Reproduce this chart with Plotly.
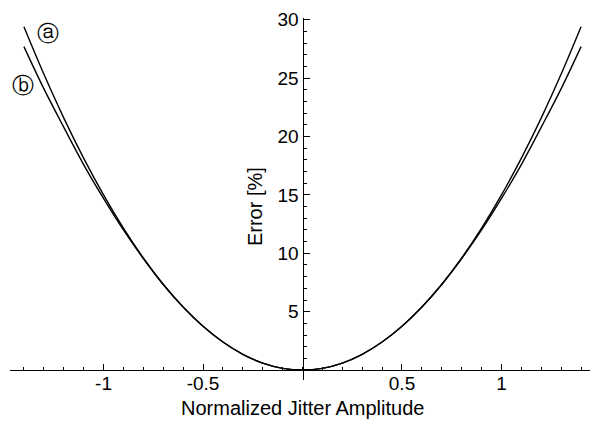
import plotly.graph_objects as go

# Data
x_vals = [-1.4, -1.3, -1.2, -1.1, -1.0, -0.9, -0.8, -0.7, -0.6, -0.5, -0.4, -0.3, -0.2, -0.1, 0.0,
          0.1, 0.2, 0.3, 0.4, 0.5, 0.6, 0.7, 0.8, 0.9, 1.0, 1.1, 1.2, 1.3, 1.4]
curve_a = [29.4, 25.35, 21.6, 18.15, 15.0, 12.15, 9.6, 7.35, 5.4, 3.75, 2.4, 1.35, 0.6, 0.15, 0.0,
           0.15, 0.6, 1.35, 2.4, 3.75, 5.4, 7.35, 9.6, 12.15, 15.0, 18.15, 21.6, 25.35, 29.4]
curve_b = [27.7, 24.1, 20.8, 17.6, 14.7, 12.0, 9.55, 7.33, 5.4, 3.75, 2.4, 1.35, 0.6, 0.15, 0.0,
           0.15, 0.6, 1.35, 2.4, 3.75, 5.4, 7.33, 9.55, 12.0, 14.7, 17.6, 20.8, 24.1, 27.7]
x_ticks = [-1, -0.5, 0.5, 1]
x_tick_text = ["-1", "-0.5", "0.5", "1"]
y_ticks = [5, 10, 15, 20, 25, 30]
x_title = "Normalized Jitter Amplitude"
y_title = "Error [%]"
labels = ["ⓐ", "ⓑ"]

FONT = "Liberation Sans, Arial, sans-serif"
FS = 19
y_lo, y_hi = -0.85, 30.15

fig = go.Figure()
for ys in (curve_a, curve_b):
    fig.add_trace(go.Scatter(x=x_vals, y=ys, mode="lines",
                             line=dict(color="black", width=1.4, shape="spline", smoothing=1.0),
                             showlegend=False, hoverinfo="skip"))

# page body has an 8px default margin, so the figure is offset by 8px
fig.update_layout(
    width=598, height=422,
    margin=dict(l=2, r=11, t=10, b=50, autoexpand=False),
    paper_bgcolor="white", plot_bgcolor="white",
    font=dict(family=FONT, size=FS, color="black"),
    xaxis=dict(range=[-1.47, 1.47], showgrid=False, zeroline=False, automargin=False,
               showline=True, linecolor="black", linewidth=1,
               anchor="free", position=(0 - y_lo) / (y_hi - y_lo),
               tickvals=x_ticks, ticktext=x_tick_text, ticklabelstandoff=-4,
               ticklabeloverflow="allow",
               ticks="inside", ticklen=6, tickwidth=1, tickcolor="black",
               minor=dict(tick0=0, dtick=0.1, ticks="inside", ticklen=3, tickcolor="black", tickwidth=1),
               tickfont=dict(size=FS, family=FONT)),
    yaxis=dict(range=[y_lo, y_hi], showgrid=False, zeroline=False, automargin=False,
               showline=True, linecolor="black", linewidth=1,
               anchor="free", position=0.5, side="left",
               tickvals=y_ticks, ticklabeloverflow="allow",
               ticks="inside", ticklen=6, tickwidth=1, tickcolor="black",
               minor=dict(tick0=0, dtick=1, ticks="inside", ticklen=3, tickcolor="black", tickwidth=1),
               tickfont=dict(size=FS, family=FONT)),
)

fig.add_annotation(text=x_title, xref="paper", yref="paper", x=0.5, y=0, yanchor="middle",
                   yshift=-28, showarrow=False, font=dict(size=20, family=FONT))
fig.add_annotation(text=y_title, xref="x", yref="y", x=0, y=14.0, xshift=-48,
                   textangle=-90, showarrow=False, font=dict(size=20, family=FONT))
fig.add_annotation(text=labels[0], xref="x", yref="y", x=-1.279, y=28.8,
                   showarrow=False, font=dict(size=22, family="DejaVu Sans"))
fig.add_annotation(text=labels[1], xref="x", yref="y", x=-1.405, y=24.4,
                   showarrow=False, font=dict(size=22, family="DejaVu Sans"))

fig.write_html("out.html")
